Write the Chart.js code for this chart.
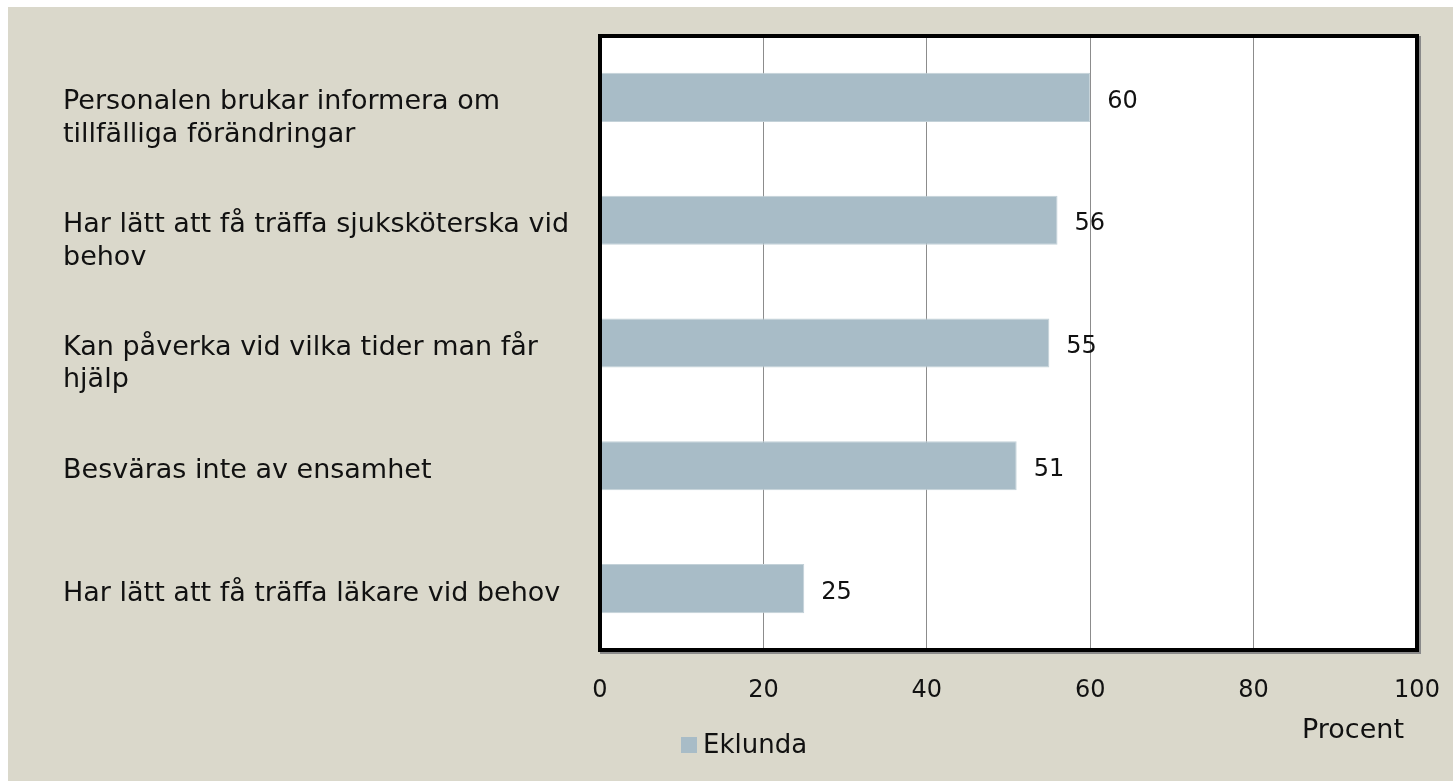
<!DOCTYPE html>
<html>
<head>
<meta charset="utf-8">
<script src="https://cdn.jsdelivr.net/npm/chart.js@4/dist/chart.umd.min.js"></script>
<style>
  html, body { margin: 0; padding: 0; background: #fff; overflow: hidden; }
  #wrap { position: absolute; left: 0; top: 0; width: 1453px; height: 781px; }
</style>
</head>
<body>
<div id="wrap"><canvas id="chart"></canvas></div>
<script>
// data
const categories = [
    ["Personalen brukar informera om", "tillfälliga förändringar"],
    ["Har lätt att få träffa sjuksköterska vid", "behov"],
    ["Kan påverka vid vilka tider man får", "hjälp"],
    "Besväras inte av ensamhet",
    "Har lätt att få träffa läkare vid behov"
];
const eklunda = [60, 56, 55, 51, 25];
const xTicks = [0, 20, 40, 60, 80, 100];
const seriesName = "Eklunda";
const axisTitle = "Procent";

const FONT = "'DejaVu Sans', sans-serif";
const BG = "#dad8cb";
const BAR = "#a8bcc7";

// beige panel behind everything
const panelBg = {
    id: "panelBg",
    beforeDraw(chart) {
        const ctx = chart.ctx;
        ctx.save();
        ctx.fillStyle = BG;
        ctx.fillRect(8, 7, chart.width - 8, chart.height - 7);
        ctx.fillStyle = "#fff";
        const a = chart.chartArea;
        ctx.fillRect(a.left, a.top, a.right - a.left, a.bottom - a.top);
        ctx.restore();
    }
};

// frame, value labels, legend and axis title
const extras = {
    id: "extras",
    afterDatasetsDraw(chart) {
        const ctx = chart.ctx;
        const a = chart.chartArea;
        ctx.save();
        // shadow + black frame
        ctx.fillStyle = "#8a8a8a";
        ctx.fillRect(a.right + 2, a.top, 2, a.bottom - a.top + 4);
        ctx.fillRect(a.left, a.bottom + 2, a.right - a.left + 4, 2);
        ctx.strokeStyle = "#000";
        ctx.lineWidth = 4;
        ctx.strokeRect(a.left, a.top, a.right - a.left, a.bottom - a.top);

        // value labels
        ctx.fillStyle = "#111";
        ctx.font = "24px " + FONT;
        ctx.textAlign = "left";
        ctx.textBaseline = "middle";
        const meta = chart.getDatasetMeta(0);
        meta.data.forEach((bar, i) => {
            ctx.fillText(String(eklunda[i]), bar.x + 17, bar.y + 4);
        });

        // legend
        ctx.fillStyle = BAR;
        ctx.fillRect(681, 737, 16, 16);
        ctx.fillStyle = "#111";
        ctx.font = "26px " + FONT;
        ctx.fillText(seriesName, 703, 746);

        // axis title
        ctx.textAlign = "right";
        ctx.font = "27px " + FONT;
        ctx.fillText(axisTitle, 1404, 731);
        ctx.restore();
    }
};

new Chart(document.getElementById("chart").getContext("2d"), {
    type: "bar",
    data: {
        labels: categories,
        datasets: [{
            label: seriesName,
            data: eklunda,
            backgroundColor: BAR,
            borderColor: "#c3d1d8",
            borderWidth: 1,
            categoryPercentage: 1,
            barPercentage: 0.4
        }]
    },
    options: {
        indexAxis: "y",
        responsive: true,
        maintainAspectRatio: false,
        animation: false,
        layout: { padding: { left: 63, top: 36, right: 36, bottom: 0 } },
        plugins: { legend: { display: false }, tooltip: { enabled: false } },
        scales: {
            x: {
                min: 0,
                max: 100,
                afterBuildTicks(scale) {
                    scale.ticks = xTicks.map(v => ({ value: v }));
                },
                afterFit(scale) {
                    scale.height = 131;
                    scale.paddingLeft = 0;
                    scale.paddingRight = 0;
                },
                border: { display: false },
                grid: { color: "#8c8c8c", lineWidth: 1, drawTicks: false },
                ticks: {
                    color: "#111",
                    font: { family: FONT, size: 24 },
                    padding: 26,
                    maxRotation: 0
                }
            },
            y: {
                afterFit(scale) {
                    scale.width = 537;
                    scale.paddingTop = 0;
                    scale.paddingBottom = 0;
                },
                border: { display: false },
                grid: { display: false, drawTicks: false },
                ticks: {
                    crossAlign: "far",
                    labelOffset: 5,
                    color: "#111",
                    font: { family: FONT, size: 27, lineHeight: 1.2 },
                    callback(value, i) {
                        const l = categories[i];
                        return Array.isArray(l) ? ["", ...l] : l;
                    }
                }
            }
        }
    },
    plugins: [panelBg, extras]
});
</script>
</body>
</html>
